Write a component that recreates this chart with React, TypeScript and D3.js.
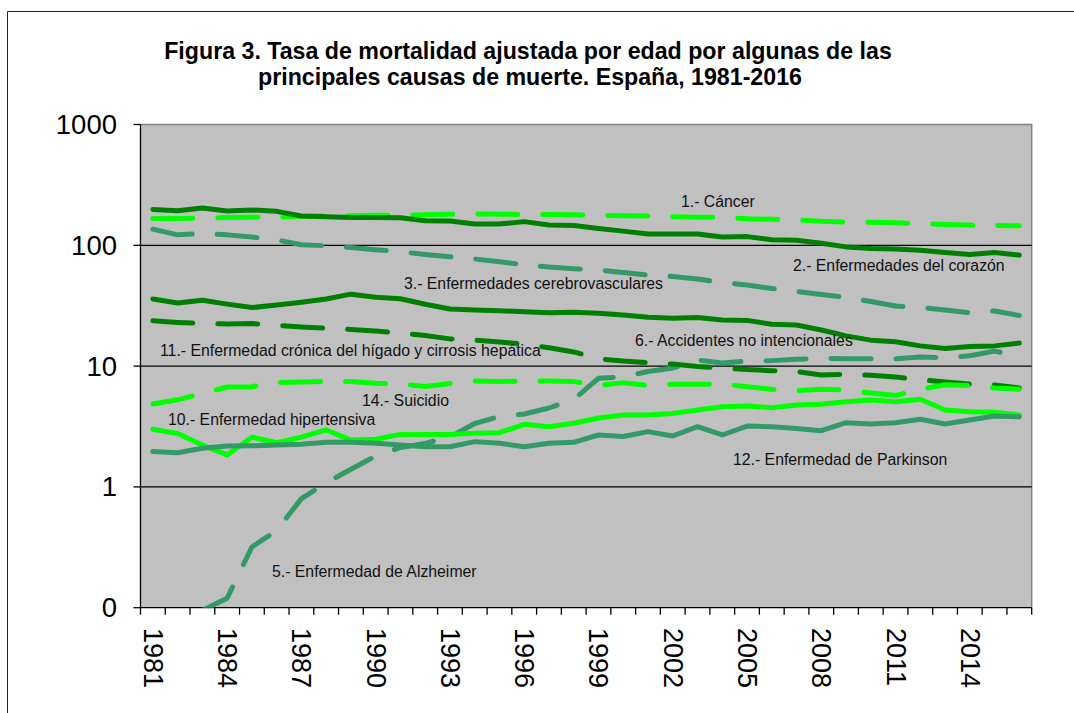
import React from 'react';
import * as d3 from 'd3';

const years = [1981,1982,1983,1984,1985,1986,1987,1988,1989,1990,1991,1992,1993,1994,1995,1996,1997,1998,1999,2000,2001,2002,2003,2004,2005,2006,2007,2008,2009,2010,2011,2012,2013,2014,2015,2016];
const yearLabels = [1981,1984,1987,1990,1993,1996,1999,2002,2005,2008,2011,2014];
const yTicks = [0.1, 1, 10, 100, 1000];
const yTickLabels = ['0', '1', '10', '100', '1000'];

const cancer = [167,167,168,170,171,171,174,175,176,177,178,179,181,182,181,180,180,179,177,176,175,172,171,170,166,164,162,158,156,155,154,151,149,147,146,145];
const heart = [198,193,204,192,196,191,175,172,170,170,169,160,159,150,150,157,147,146,138,131,124,124,124,117,118,111,110,104,97,94,93,91,87,84,87,83];
const cerebro = [136,122,125,122,117,111,101,99,96,92,88.5,84,80.5,77,73,69,66,64,62.5,59.6,56.8,55.2,52.6,49.2,46.9,43.9,41.5,39.2,37,34.3,31.4,30.5,29.1,27.7,28.6,26.2];
const alzheimer = [null,null,0.095,0.12,0.318,0.435,0.8,1.08,1.4,1.8,2.12,2.29,2.59,3.35,3.83,4.01,4.5,5.3,7.93,8.13,9.02,9.64,11.2,10.6,11.0,11.1,11.4,11.6,11.5,11.5,11.5,11.9,11.7,12.2,13.3,12.1];
const accidents = [35.9,33.3,35.1,32.6,30.5,32.1,33.8,35.9,39.4,37.2,36.1,32.5,29.7,29.1,28.7,28.2,27.7,27.9,27.4,26.5,25.4,24.9,25.2,24.1,23.9,22.2,21.9,19.9,17.8,16.4,15.9,14.7,14.0,14.5,14.7,15.5];
const hypertension = [3.0,2.77,2.22,1.84,2.58,2.32,2.58,2.96,2.44,2.48,2.72,2.72,2.72,2.78,2.81,3.3,3.15,3.36,3.72,3.94,3.94,4.06,4.33,4.61,4.67,4.53,4.76,4.83,5.07,5.24,5.07,5.31,4.33,4.19,4.15,3.94];
const liver = [23.7,23.0,22.5,22.3,22.5,21.8,21.1,20.6,20.1,19.5,18.8,17.9,16.8,16.4,15.8,15.2,14.2,13.1,11.5,11.0,10.7,10.4,9.94,9.64,9.37,9.16,9.02,8.44,8.55,8.39,8.12,7.7,7.39,7.11,6.98,6.59];
const parkinson = [1.96,1.92,2.09,2.18,2.19,2.22,2.25,2.34,2.34,2.3,2.22,2.15,2.15,2.37,2.3,2.15,2.3,2.34,2.69,2.61,2.87,2.64,3.15,2.69,3.19,3.15,3.05,2.92,3.4,3.32,3.4,3.63,3.32,3.58,3.86,3.81];
const suicide = [4.86,5.26,5.93,6.71,6.75,7.3,7.38,7.46,7.46,7.21,7.11,6.78,7.18,7.53,7.46,7.53,7.53,7.44,6.91,7.28,6.91,7.07,7.07,7.11,6.74,6.43,6.26,6.44,6.34,5.98,5.71,6.4,7.0,6.91,6.59,6.44];

const BRIGHT = '#00FF00';
const DARK = '#008000';
const MEDIUM = '#339966';

const series = [
  { name: '1.- Cáncer', values: cancer, color: BRIGHT, dashed: true },
  { name: '2.- Enfermedades del corazón', values: heart, color: DARK, dashed: false },
  { name: '3.- Enfermedades cerebrovasculares', values: cerebro, color: MEDIUM, dashed: true },
  { name: '5.- Enfermedad de Alzheimer', values: alzheimer, color: MEDIUM, dashed: true },
  { name: '6.- Accidentes no intencionales', values: accidents, color: DARK, dashed: false },
  { name: '10.- Enfermedad hipertensiva', values: hypertension, color: BRIGHT, dashed: false },
  { name: '11.- Enfermedad crónica del hígado y cirrosis hepática', values: liver, color: DARK, dashed: true },
  { name: '12.- Enfermedad de Parkinson', values: parkinson, color: MEDIUM, dashed: false },
  { name: '14.- Suicidio', values: suicide, color: BRIGHT, dashed: true },
];

const labelLayout = [
  { text: '1.- Cáncer', x: 681, y: 207 },
  { text: '2.- Enfermedades del corazón', x: 793, y: 271 },
  { text: '3.- Enfermedades cerebrovasculares', x: 404, y: 289 },
  { text: '6.- Accidentes no intencionales', x: 635, y: 346 },
  { text: '11.- Enfermedad crónica del hígado y cirrosis hepática', x: 160, y: 356 },
  { text: '14.- Suicidio', x: 362, y: 406 },
  { text: '10.- Enfermedad hipertensiva', x: 168, y: 425 },
  { text: '12.- Enfermedad de Parkinson', x: 733, y: 465 },
  { text: '5.- Enfermedad de Alzheimer', x: 272, y: 577 },
];

const W = 1074;
const H = 713;
const left = 140.5;
const right = 1031.7;
const top = 124.5;
const bottom = 607.7;
const FONT = "'Liberation Sans', Arial, Helvetica, sans-serif";

export default function App() {
  const x = d3.scaleBand<number>().domain(years).range([left, right]).padding(0);
  const y = d3.scaleLog().domain([0.1, 1000]).range([bottom, top]);
  const cx = (yr: number) => (x(yr) as number) + x.bandwidth() / 2;

  const line = d3
    .line<[number, number | null]>()
    .defined((d) => d[1] != null)
    .x((d) => cx(d[0]))
    .y((d) => y(d[1] as number));

  const boundaries = years.map((yr) => x(yr) as number).concat([right]);

  return (
    <svg width={W} height={H} style={{ position: 'absolute', left: 0, top: 0, background: '#fff' }} fontFamily={FONT}>
      <defs>
        <clipPath id="plotClip">
          <rect x={left} y={top} width={right - left} height={bottom - top} />
        </clipPath>
      </defs>
      <rect x={0} y={0} width={W} height={H} fill="#fff" />
      {/* outer frame */}
      <path d={`M7.5,${H + 2} L7.5,11.5 L${W + 2},11.5`} fill="none" stroke="#222" strokeWidth={1} />

      {/* title */}
      <text x={528} y={58.5} textAnchor="middle" fontSize={23.2} fontWeight="bold" fill="#000">
        Figura 3. Tasa de mortalidad ajustada por edad por algunas de las
      </text>
      <text x={530} y={84.5} textAnchor="middle" fontSize={23.2} fontWeight="bold" fill="#000">
        principales causas de muerte. España, 1981-2016
      </text>

      {/* plot background */}
      <rect x={left} y={top} width={right - left} height={bottom - top} fill="#C0C0C0" />
      {/* top and right border */}
      <path d={`M${left},${top} L${right},${top} L${right},${bottom}`} fill="none" stroke="#808080" strokeWidth={1.5} />

      {/* gridlines */}
      {yTicks.slice(1, 4).map((t) => (
        <line key={t} x1={left} x2={right} y1={y(t)} y2={y(t)} stroke="#000" strokeWidth={1.3} />
      ))}

      {/* axes */}
      <line x1={left} x2={left} y1={top} y2={bottom} stroke="#000" strokeWidth={1.3} />
      <line x1={left} x2={right} y1={bottom} y2={bottom} stroke="#000" strokeWidth={1.3} />
      {yTicks.map((t, i) => (
        <g key={t}>
          <line x1={left - 7} x2={left} y1={y(t)} y2={y(t)} stroke="#000" strokeWidth={1.3} />
          <text x={117} y={y(t)} textAnchor="end" dominantBaseline="central" fontSize={27.5} fill="#000">
            {yTickLabels[i]}
          </text>
        </g>
      ))}
      {boundaries.map((b, i) => (
        <line key={i} x1={b} x2={b} y1={bottom} y2={bottom + 7} stroke="#000" strokeWidth={1.3} />
      ))}
      {yearLabels.map((yr) => (
        <text
          key={yr}
          transform={`translate(${cx(yr)},${628}) rotate(90)`}
          textAnchor="start"
          dominantBaseline="central"
          fontSize={27}
          fill="#000"
        >
          {yr}
        </text>
      ))}

      {/* series */}
      <g clipPath="url(#plotClip)">
        {series.map((s) => (
          <path
            key={s.name}
            d={line(years.map((yr, i) => [yr, s.values[i]] as [number, number | null])) || ''}
            fill="none"
            stroke={s.color}
            strokeWidth={5}
            strokeLinecap="round"
            strokeLinejoin="round"
            strokeDasharray={s.dashed ? '40 25' : undefined}
          />
        ))}
      </g>

      {/* series labels */}
      {labelLayout.map((l) => (
        <text key={l.text} x={l.x} y={l.y} fontSize={15.8} fill="#111">
          {l.text}
        </text>
      ))}
    </svg>
  );
}
